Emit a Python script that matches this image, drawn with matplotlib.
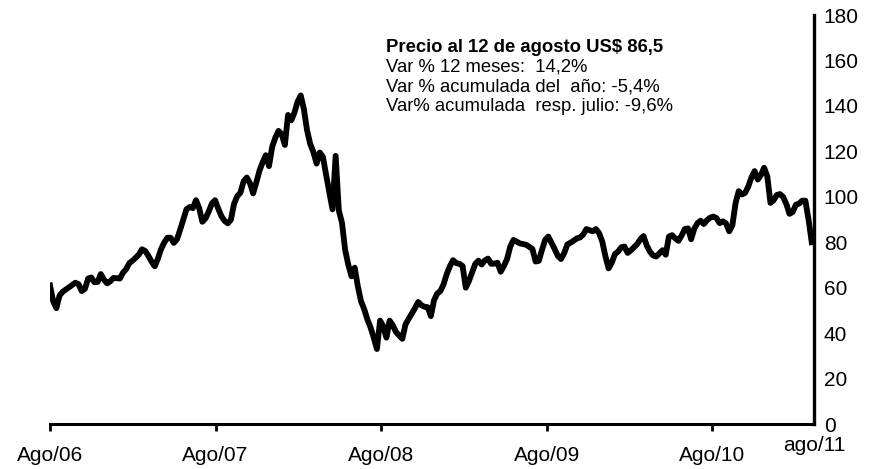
import matplotlib.pyplot as plt
import pandas as pd

plt.rcParams['font.family'] = ['Liberation Sans', 'DejaVu Sans']

# precio semanal del petróleo (US$/barril)
precio = [
    61, 54, 51, 56.5, 58.2, 59.2, 60.2, 61.2, 62.2, 61.5,
    58.5, 59.5, 64, 64.5, 62.4, 62.5, 66, 63.5, 61.9, 62.8,
    64.3, 64.2, 64, 66.6, 68.2, 70.8, 71.9, 73.2, 74.6, 76.9,
    76.1, 74, 71.5, 69.4, 72.8, 77, 79.9, 82, 82, 79.7,
    81.3, 85.5, 90, 94.5, 95.5, 95, 98.5, 95, 89, 90.5,
    93.5, 97, 98.5, 94.8, 91.5, 89.4, 88.3, 89.9, 97, 100.3,
    101.8, 106.8, 108.5, 106, 101.5, 106.3, 111.5, 115.2, 118.3, 113.5,
    122, 126, 129, 127.5, 122.8, 136, 133.6, 137, 141.8, 144.6,
    138.5, 129.2, 123.2, 119.6, 114.6, 119.5, 117.5, 109.6, 102, 94.5,
    118, 94, 88.5, 76.5, 70, 65, 68.8, 60.5, 54, 50.5,
    46, 42.5, 38, 33, 45.5, 43, 38, 45.5, 43.5, 40.5,
    39, 37.5, 43.8, 46.3, 48.6, 51, 53.7, 52.3, 51.6, 51.4,
    47.5, 54.5, 57.4, 58.5, 61.5, 66, 69.5, 72.1, 70.8, 70.5,
    69.5, 60, 63, 66.8, 70.5, 71.9, 70.2, 72, 72.8, 70.5,
    70.6, 71, 67, 69.5, 72.6, 78, 81, 80.3, 79.5, 79.2,
    78.9, 78, 77, 71.5, 71.8, 76.6, 81, 82.5, 79.8, 77,
    74, 72.6, 75.2, 79, 79.8, 80.7, 81.7, 82.1, 83.4, 85.8,
    85.3, 84.8, 85.8, 84, 80.3, 73.8, 68.5, 71, 74.8, 75.9,
    77.8, 78.1, 75.3, 76.4, 77.8, 79.2, 81.3, 82.7, 78.6, 75.9,
    74.2, 73.7, 75.1, 76.5, 74.5, 82.5, 83.1, 81.7, 80.6, 82.9,
    85.8, 86.1, 81.3, 86, 88.4, 89.5, 88, 89.7, 90.8, 91.3,
    90.6, 88.4, 89.2, 88.3, 84.8, 87.5, 97.2, 102.5, 101, 101.7,
    104.5, 108.5, 111.3, 107.6, 109.6, 112.8, 109, 97.3, 98.5, 100.8,
    101.2, 99.9, 96.8, 92.5, 93.3, 96.5, 97, 98.3, 98.3, 90,
    80,
]
fechas = pd.date_range('2007-01-01', periods=len(precio), freq='7D')

marcas = pd.to_datetime(['2007-01-01', '2008-01-01', '2009-01-01', '2010-01-01', '2011-01-01'])
etiquetas = ['Ago/06', 'Ago/07', 'Ago/08', 'Ago/09', 'Ago/10']
ultima = 'ago/11'

titulo = 'Precio al 12 de agosto US$ 86,5'
lineas = ['Var % 12 meses:  14,2%',
          'Var % acumulada del  año: -5,4%',
          'Var% acumulada  resp. julio: -9,6%']

fig = plt.figure(figsize=(8.82, 4.69), dpi=100)
ax = fig.add_axes([0.0567, 0.0959, 0.8662, 0.8721])

ax.plot(fechas, precio, color='black', lw=4.2, solid_joinstyle='round')

ax.set_ylim(0, 180)
ax.set_xlim(pd.Timestamp('2007-01-01'), pd.Timestamp('2011-08-13'))
ax.set_yticks(range(0, 181, 20))
ax.yaxis.tick_right()
ax.tick_params(axis='y', length=0, pad=7, labelsize=15)
ax.set_xticks(marcas)
ax.set_xticklabels(etiquetas)
ax.tick_params(axis='x', direction='out', length=5, width=2, pad=11, labelsize=15)

ax.spines['left'].set_visible(False)
ax.spines['top'].set_visible(False)
ax.spines['bottom'].set_linewidth(2.2)
ax.spines['right'].set_linewidth(2.4)

# etiqueta del último mes, sin marca
ax.text(1.0, -0.052, ultima, transform=ax.transAxes, ha='center', va='center', fontsize=15)

# recuadro de texto
fig.text(0.4376, 1 - 52 / 469, titulo, fontsize=13.3, fontweight='bold', va='baseline')
for i, t in enumerate(lineas):
    fig.text(0.4376, 1 - (72 + 19.7 * i) / 469, t, fontsize=13.3, va='baseline')

fig.savefig('out.png', dpi=100)
